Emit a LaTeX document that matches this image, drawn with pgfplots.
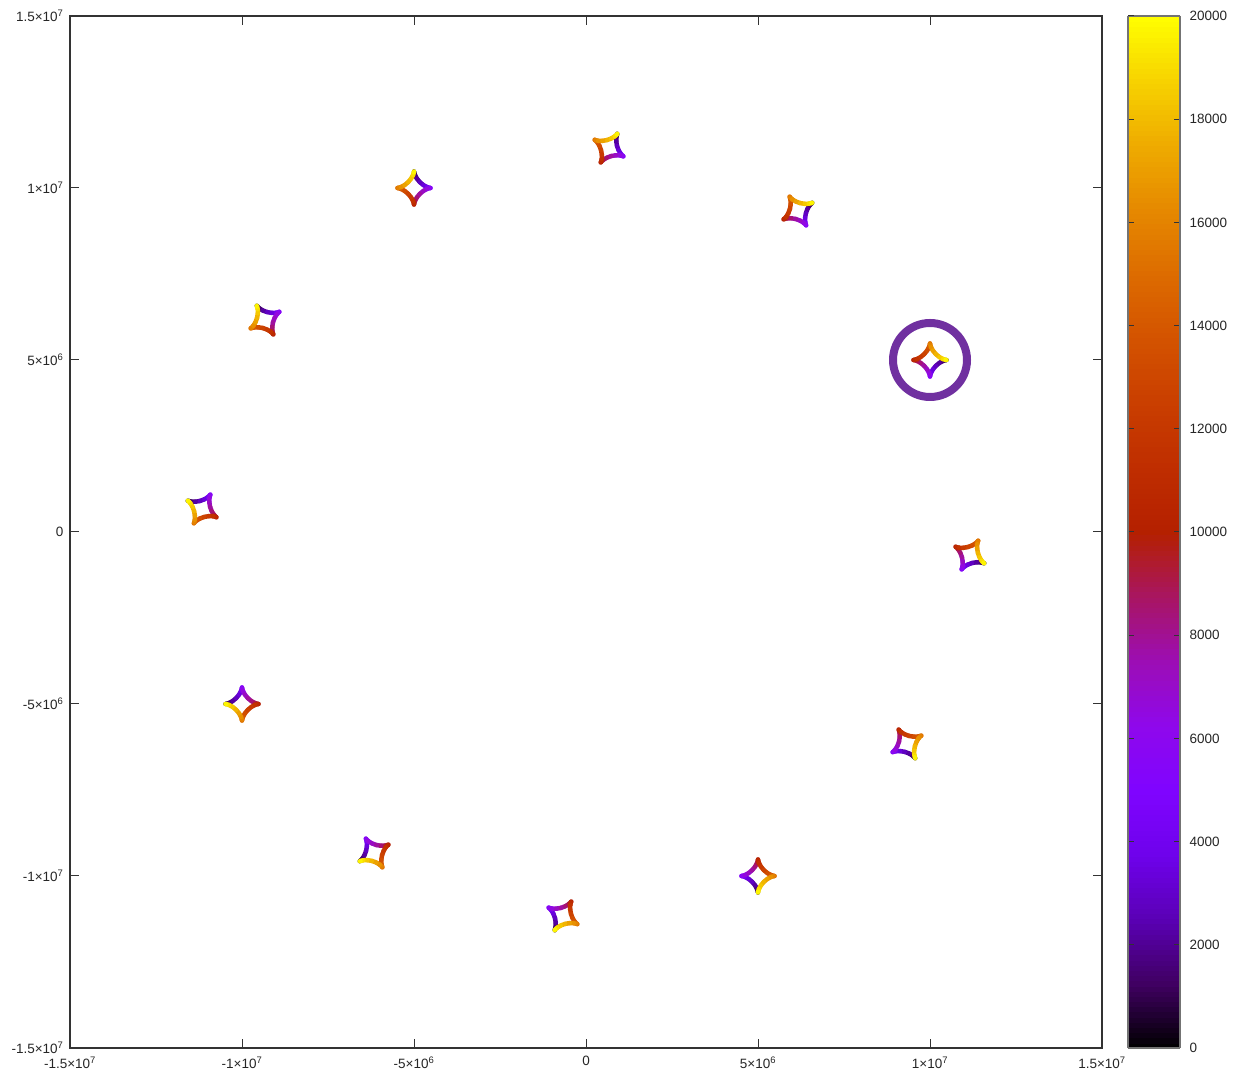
\documentclass[border=0pt]{standalone}
\usepackage{pgfplots}
\pgfplotsset{compat=1.18}
\usepackage{pgfplotstable}
\usepackage{fontspec}
\setmainfont{Liberation Sans}

% unit astroid, traversed clockwise from the cusp at angle 0; t = time
\pgfplotstableread{
u v t
1 0 0
0.94346 -0.00743 625
0.78858 -0.05604 1250
0.57483 -0.17148 1875
0.35355 -0.35355 2500
0.17148 -0.57483 3125
0.05604 -0.78858 3750
0.00743 -0.94346 4375
0 -1 5000
-0.00743 -0.94346 5625
-0.05604 -0.78858 6250
-0.17148 -0.57483 6875
-0.35355 -0.35355 7500
-0.57483 -0.17148 8125
-0.78858 -0.05604 8750
-0.94346 -0.00743 9375
-1 0 10000
-0.94346 0.00743 10625
-0.78858 0.05604 11250
-0.57483 0.17148 11875
-0.35355 0.35355 12500
-0.17148 0.57483 13125
-0.05604 0.78858 13750
-0.00743 0.94346 14375
0 1 15000
0.00743 0.94346 15625
0.05604 0.78858 16250
0.17148 0.57483 16875
0.35355 0.35355 17500
0.57483 0.17148 18125
0.78858 0.05604 18750
0.94346 0.00743 19375
1 0 20000
}\shape

% #1 = centre x, #2 = centre y, #3 = angle of the starting cusp
\newcommand\astroid[3]{%
  \addplot[mesh, point meta=explicit, line width=4.5pt, line cap=round, line join=round]
    table[x expr={#1+480000*(\thisrow{u}*cos(#3)-\thisrow{v}*sin(#3))},
          y expr={#2+480000*(\thisrow{u}*sin(#3)+\thisrow{v}*cos(#3))},
          meta=t]{\shape};}

\begin{document}
\begin{tikzpicture}
\begin{axis}[name=ax, scale only axis, width=1032pt, height=1032pt,
  xmin=-1.5e7, xmax=1.5e7, ymin=-1.5e7, ymax=1.5e7,
  scaled ticks=false,
  xtick={-1.5e7,-1e7,-5e6,0,5e6,1e7,1.5e7},
  ytick={-1.5e7,-1e7,-5e6,0,5e6,1e7,1.5e7},
  xticklabels={-1.5×10\textsuperscript{7},-1×10\textsuperscript{7},-5×10\textsuperscript{6},0,5×10\textsuperscript{6},1×10\textsuperscript{7},1.5×10\textsuperscript{7}},
  yticklabels={-1.5×10\textsuperscript{7},-1×10\textsuperscript{7},-5×10\textsuperscript{6},0,5×10\textsuperscript{6},1×10\textsuperscript{7},1.5×10\textsuperscript{7}},
  tick label style={font=\fontsize{13.5}{15}\selectfont, text=black!85},
  xticklabel style={yshift=-5pt},
  yticklabel style={xshift=-3pt},
  tick align=inside, major tick length=9pt,
  tick style={black!80, line width=1pt},
  axis line style={black!80, line width=1.8pt},
  colormap={gnu}{rgb=(0,0,0) rgb=(0.25,0,0.383) rgb=(0.354,0.002,0.707) rgb=(0.433,0.007,0.924) rgb=(0.5,0.016,1) rgb=(0.559,0.031,0.924) rgb=(0.612,0.053,0.707) rgb=(0.661,0.084,0.383) rgb=(0.707,0.125,0) rgb=(0.75,0.178,0) rgb=(0.79,0.244,0) rgb=(0.829,0.325,0) rgb=(0.866,0.422,0) rgb=(0.901,0.536,0) rgb=(0.935,0.670,0) rgb=(0.968,0.824,0) rgb=(1,1,0)},
  point meta min=0, point meta max=20000,
  colorbar sampled,
  colorbar style={at={(parent axis.north east)}, anchor=north west, xshift=17.5pt,
    width=52pt, samples=200,
    scaled ticks=false,
    ytick={0,2000,4000,6000,8000,10000,12000,14000,16000,18000,20000},
    yticklabels={0,2000,4000,6000,8000,10000,12000,14000,16000,18000,20000},
    yticklabel pos=right,
    tick align=inside, major tick length=6pt,
    tick style={black!80, line width=1pt},
    axis line style={black!55, line width=1.6pt},
    yticklabel style={font=\fontsize{13.5}{15}\selectfont, text=black!85, xshift=6pt}},
]
\astroid{10000000}{5000000}{0}
\astroid{6160000}{9330000}{30}
\astroid{670000}{11160000}{60}
\astroid{-5000000}{10000000}{90}
\astroid{-9330000}{6160000}{120}
\astroid{-11160000}{670000}{150}
\astroid{-10000000}{-5000000}{180}
\astroid{-6160000}{-9330000}{210}
\astroid{-670000}{-11160000}{240}
\astroid{5000000}{-10000000}{270}
\astroid{9330000}{-6160000}{300}
\astroid{11160000}{-670000}{330}
\draw[color={rgb,255:red,112;green,48;blue,160}, line width=8pt] (axis cs:10000000,5000000) circle[radius=37pt];
\end{axis}
\pgfresetboundingbox
\path[use as bounding box] ([shift={(-70pt,-25pt)}]ax.south west) rectangle ([shift={(137pt,16pt)}]ax.north east);
\end{tikzpicture}
\end{document}
